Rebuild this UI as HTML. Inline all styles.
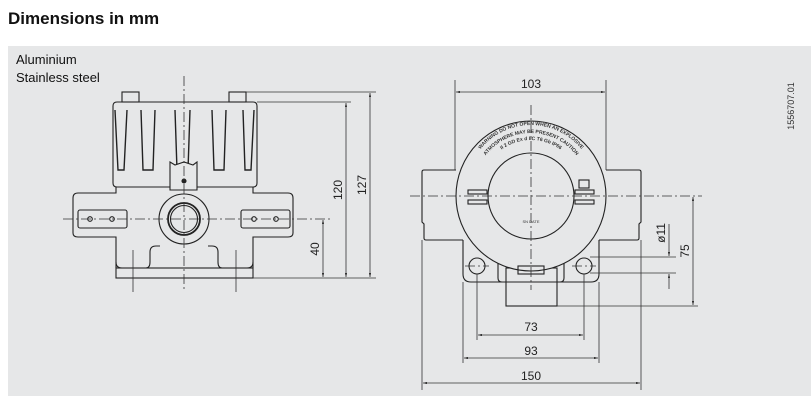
<!DOCTYPE html>
<html><head><meta charset="utf-8"><style>
html,body{margin:0;padding:0;background:#fff;width:811px;height:407px;overflow:hidden}
svg{display:block}
text{font-family:"Liberation Sans",sans-serif}
.d{font-family:"Liberation Sans Narrow","Liberation Sans",sans-serif;font-size:12px;fill:#222}
</style></head><body>
<svg width="811" height="407" viewBox="0 0 811 407" xmlns="http://www.w3.org/2000/svg">
<defs>
<marker id="a" viewBox="0 0 10 6" refX="10" refY="3" markerWidth="7" markerHeight="3" orient="auto-start-reverse"><path d="M0,0L10,3L0,6z" fill="#333"/></marker>
</defs>
<text x="8" y="24" font-size="17" font-weight="bold" fill="#111">Dimensions in mm</text>
<rect x="8" y="46" width="803" height="350" fill="#e6e7e8"/>
<text x="16" y="64" font-size="13" fill="#111">Aluminium</text>
<text x="16" y="82" font-size="13" fill="#111">Stainless steel</text>
<text transform="translate(794,106) rotate(-90)" text-anchor="middle" font-size="9" fill="#333">1556707.01</text>

<g fill="none" stroke="#222" stroke-width="1.1">
<!-- LEFT VIEW -->
<rect x="122" y="92" width="17" height="10"/>
<rect x="229" y="92" width="17" height="10"/>
<path d="M117,102 H253 Q257,102 257,106 V183 Q257,187 253,187 H117 Q113,187 113,183 V106 Q113,102 117,102Z"/>
<path d="M115,110 L118,170 H124 L127,110 M141,110 L143,170 H153 L155,110 M175,110 L177,170 M190,110 L188,170 M212,110 L214,170 H224 L226,110 M243,110 L245,170 H251 L254,110" stroke-width="1.4"/>
<path d="M170,162 L175,165 L184,162 L193,165 L197,162 V190 H170Z" fill="#e6e7e8"/>
<circle cx="184" cy="181" r="2" fill="#222"/>
<path d="M116,187 V193 H78 Q73,193 73,198 V233 Q73,237 78,237 H116 V268 M253,187 V193 H288 Q293,193 293,198 V233 Q293,237 288,237 H253 V268"/>
<path d="M116,262 Q116,268 122,268 H146 Q150,268 150,262 V252 Q150,246 156,246 H160 M253,262 Q253,268 247,268 H222 Q218,268 218,262 V252 Q218,246 212,246 H208"/>
<rect x="116" y="268" width="137" height="10"/>
<rect x="78" y="210" width="49" height="18" rx="2"/>
<rect x="241" y="210" width="49" height="18" rx="2"/>
<circle cx="90" cy="219" r="2.3"/><circle cx="112" cy="219" r="2.3"/>
<circle cx="254" cy="219" r="2.3"/><circle cx="276" cy="219" r="2.3"/>
<circle cx="184" cy="219" r="25"/>
<circle cx="184" cy="219" r="16" stroke-width="1.8"/>
<circle cx="184" cy="219" r="13.5"/>
</g>
<g stroke="#333" stroke-width="0.8" stroke-dasharray="10,3,2,3" fill="none">
<line x1="184" y1="76" x2="184" y2="292"/>
<line x1="63" y1="219" x2="330" y2="219"/>
<line x1="133" y1="250" x2="133" y2="292" stroke-dasharray="none"/>
<line x1="236" y1="250" x2="236" y2="292" stroke-dasharray="none"/>
</g>
<g stroke="#333" stroke-width="0.8" fill="none">
<line x1="246" y1="92" x2="376" y2="92"/>
<line x1="257" y1="102" x2="351" y2="102"/>
<line x1="253" y1="278" x2="376" y2="278"/>
<line x1="346" y1="103" x2="346" y2="277" marker-start="url(#a)" marker-end="url(#a)"/>
<line x1="370" y1="93" x2="370" y2="277" marker-start="url(#a)" marker-end="url(#a)"/>
<line x1="323" y1="220" x2="323" y2="277" marker-start="url(#a)" marker-end="url(#a)"/>
</g>
<text class="d" transform="translate(342,190) rotate(-90)" text-anchor="middle">120</text>
<text class="d" transform="translate(366,185) rotate(-90)" text-anchor="middle">127</text>
<text class="d" transform="translate(319,249) rotate(-90)" text-anchor="middle">40</text>

<!-- RIGHT VIEW -->
<g fill="none" stroke="#222" stroke-width="1.1">
<path d="M456,170 H424 Q422,170 422,172 V222 L424,224 V238 Q424,240 426,240 H463 M606,170 H639 Q641,170 641,172 V222 L639,224 V238 Q639,240 637,240 H599"/>
<path d="M463,240 V274 Q463,282 471,282 H591 Q599,282 599,274 V240"/>
<circle cx="477" cy="266" r="8"/><circle cx="584" cy="266" r="8"/>
<path d="M498,262 V278 Q498,282 502,282 M564,262 V278 Q564,282 560,282"/>
<rect x="506" y="268" width="51" height="38"/>
<circle cx="531" cy="196" r="75" fill="#e6e7e8"/>
<circle cx="531" cy="196" r="43"/>
<rect x="468" y="190" width="19" height="4"/><rect x="468" y="200" width="19" height="4"/>
<rect x="575" y="190" width="19" height="4"/><rect x="575" y="200" width="19" height="4"/>
<rect x="579" y="180" width="10" height="8"/>
<rect x="518" y="266" width="26" height="8"/>
</g>
<g font-size="5" fill="#333" font-weight="bold" text-anchor="middle">
<path id="arc1" d="M466,190 A65,65 0 0 1 596,190" fill="none"/>
<path id="arc2" d="M474,190 A57,57 0 0 1 588,190" fill="none"/>
<path id="arc3" d="M481,190 A50,50 0 0 1 581,190" fill="none"/>
<text><textPath href="#arc1" startOffset="50%">WARNING DO NOT OPEN WHEN AN EXPLOSIVE</textPath></text>
<text><textPath href="#arc2" startOffset="50%">ATMOSPHERE MAY BE PRESENT CAUTION</textPath></text>
<text><textPath href="#arc3" startOffset="50%">II 2 GD Ex d IIC T6 Gb IP66</textPath></text>
</g>
<text x="531" y="223" font-size="4" text-anchor="middle" fill="#333">SN  DATE</text>
<g stroke="#333" stroke-width="0.8" stroke-dasharray="10,3,2,3" fill="none">
<line x1="531" y1="105" x2="531" y2="290"/>
<line x1="410" y1="196" x2="702" y2="196"/>
<line x1="465" y1="266" x2="489" y2="266"/><line x1="572" y1="266" x2="596" y2="266"/>
</g>
<g stroke="#333" stroke-width="0.8" fill="none">
<line x1="455" y1="80" x2="455" y2="170"/><line x1="606" y1="80" x2="606" y2="170"/>
<line x1="456" y1="92" x2="605" y2="92" marker-start="url(#a)" marker-end="url(#a)"/>
<line x1="477" y1="274" x2="477" y2="340"/><line x1="584" y1="274" x2="584" y2="340"/>
<line x1="478" y1="335" x2="583" y2="335" marker-start="url(#a)" marker-end="url(#a)"/>
<line x1="463" y1="282" x2="463" y2="363"/><line x1="599" y1="282" x2="599" y2="363"/>
<line x1="464" y1="358" x2="598" y2="358" marker-start="url(#a)" marker-end="url(#a)"/>
<line x1="422" y1="240" x2="422" y2="390"/><line x1="641" y1="240" x2="641" y2="390"/>
<line x1="423" y1="383" x2="640" y2="383" marker-start="url(#a)" marker-end="url(#a)"/>
<line x1="557" y1="306" x2="698" y2="306"/>
<line x1="693" y1="197" x2="693" y2="305" marker-start="url(#a)" marker-end="url(#a)"/>
<line x1="590" y1="257" x2="676" y2="257"/><line x1="590" y1="273" x2="676" y2="273"/>
<line x1="669" y1="224" x2="669" y2="256" marker-end="url(#a)"/>
<line x1="669" y1="289" x2="669" y2="274" marker-end="url(#a)"/>
</g>
<text class="d" x="531" y="88" text-anchor="middle">103</text>
<text class="d" x="531" y="331" text-anchor="middle">73</text>
<text class="d" x="531" y="355" text-anchor="middle">93</text>
<text class="d" x="531" y="380" text-anchor="middle">150</text>
<text class="d" transform="translate(689,251) rotate(-90)" text-anchor="middle">75</text>
<text class="d" transform="translate(665,233) rotate(-90)" text-anchor="middle">ø11</text>
</svg>
</body></html>
